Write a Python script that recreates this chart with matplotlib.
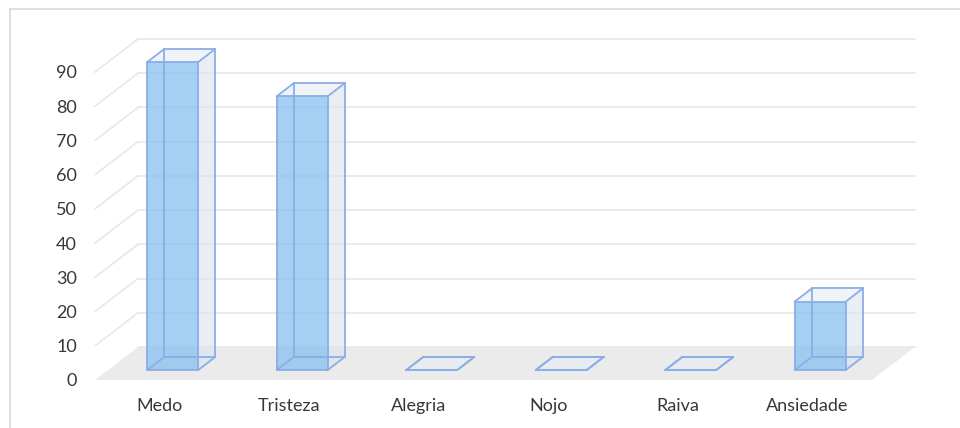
import matplotlib
matplotlib.use("Agg")
import matplotlib.pyplot as plt
from matplotlib.patches import Polygon, Rectangle

# Data
categories = ["Medo", "Tristeza", "Alegria", "Nojo", "Raiva", "Ansiedade"]
values = [90, 80, 0, 0, 0, 20]
y_ticks = [0, 10, 20, 30, 40, 50, 60, 70, 80, 90]

plt.rcParams["font.family"] = ["Lato", "DejaVu Sans"]

W, H = 960, 428
fig = plt.figure(figsize=(W / 100, H / 100), dpi=100)

# Chart-area border
fig.patches.append(Rectangle((10 / W, -0.05), 1.0, (H - 9) / H + 0.05,
                             transform=fig.transFigure, fill=False,
                             edgecolor="#D9D9D9", linewidth=1.2, zorder=0))

# Front plane of the 3-D plot area
ax = fig.add_axes([95 / W, 48 / H, 777 / W, 308 / H])
ax.set_xlim(-0.5, len(categories) - 0.5)
ax.set_ylim(0, 90)
ax.patch.set_visible(False)
for s in ax.spines.values():
    s.set_visible(False)

text_color = "#383838"
ax.set_yticks(y_ticks)
ax.set_yticklabels([str(t) for t in y_ticks])
ax.set_xticks(range(len(categories)))
ax.set_xticklabels(categories)
ax.tick_params(axis="y", length=0, pad=13, labelsize=13, labelcolor=text_color)
ax.tick_params(axis="x", length=0, pad=13, labelsize=13, labelcolor=text_color)

# Oblique depth direction, in data units per unit of depth
DX = 43 / 129.5
DY = 33 / (308 / 90)


def P(x, v, d):
    return (x + d * DX, v + d * DY)


x_lo, x_hi = -0.5, len(categories) - 0.5

# Floor
ax.add_patch(Polygon([P(x_lo, 0, 0), P(x_hi, 0, 0), P(x_hi, 0, 1), P(x_lo, 0, 1)],
                     closed=True, facecolor="#EBEBEB", edgecolor="none",
                     zorder=1, clip_on=False))

# Gridlines: side wall diagonals and back wall horizontals
grid_color = "#E8E8E8"
for t in y_ticks:
    if t > 0:
        xs, ys = zip(P(x_lo, t, 0), P(x_lo, t, 1))
        ax.plot(xs, ys, color=grid_color, lw=1.2, zorder=1.5, clip_on=False)
    xs, ys = zip(P(x_lo, t, 1), P(x_hi, t, 1))
    ax.plot(xs, ys, color=grid_color, lw=1.2, zorder=1.5, clip_on=False)

# 3-D bars
half_w = 25.5 / 129.5
d0, d1 = 0.3, 0.7
edge_color = "#8AAEE6"
front_color = (0.55, 0.76, 0.94, 0.78)
side_color = (0.85, 0.89, 0.93, 0.6)
top_color = (0.90, 0.93, 0.96, 0.6)

for i, v in enumerate(values):
    xl, xr = i - half_w, i + half_w
    # corners: f = front, b = back; l/r; lo/hi
    flo_l, flo_r = P(xl, 0, d0), P(xr, 0, d0)
    fhi_l, fhi_r = P(xl, v, d0), P(xr, v, d0)
    blo_l, blo_r = P(xl, 0, d1), P(xr, 0, d1)
    bhi_l, bhi_r = P(xl, v, d1), P(xr, v, d1)
    z = 3 + i * 0.01
    if v > 0:
        ax.add_patch(Polygon([flo_r, blo_r, bhi_r, fhi_r], facecolor=side_color,
                             edgecolor="none", zorder=z, clip_on=False))
        ax.add_patch(Polygon([fhi_l, fhi_r, bhi_r, bhi_l], facecolor=top_color,
                             edgecolor="none", zorder=z, clip_on=False))
        ax.add_patch(Polygon([flo_l, flo_r, fhi_r, fhi_l], facecolor=front_color,
                             edgecolor="none", zorder=z, clip_on=False))
    else:
        ax.add_patch(Polygon([flo_l, flo_r, blo_r, blo_l], facecolor=top_color,
                             edgecolor="none", zorder=z, clip_on=False))
    edges = [
        (flo_l, flo_r), (flo_r, fhi_r), (fhi_r, fhi_l), (fhi_l, flo_l),
        (blo_l, blo_r), (blo_r, bhi_r), (bhi_r, bhi_l), (bhi_l, blo_l),
        (flo_l, blo_l), (flo_r, blo_r), (fhi_l, bhi_l), (fhi_r, bhi_r),
    ]
    for a, b in edges:
        ax.plot([a[0], b[0]], [a[1], b[1]], color=edge_color, lw=1.3,
                solid_capstyle="round", zorder=z + 0.005, clip_on=False)

fig.savefig("out.png", dpi=100)
